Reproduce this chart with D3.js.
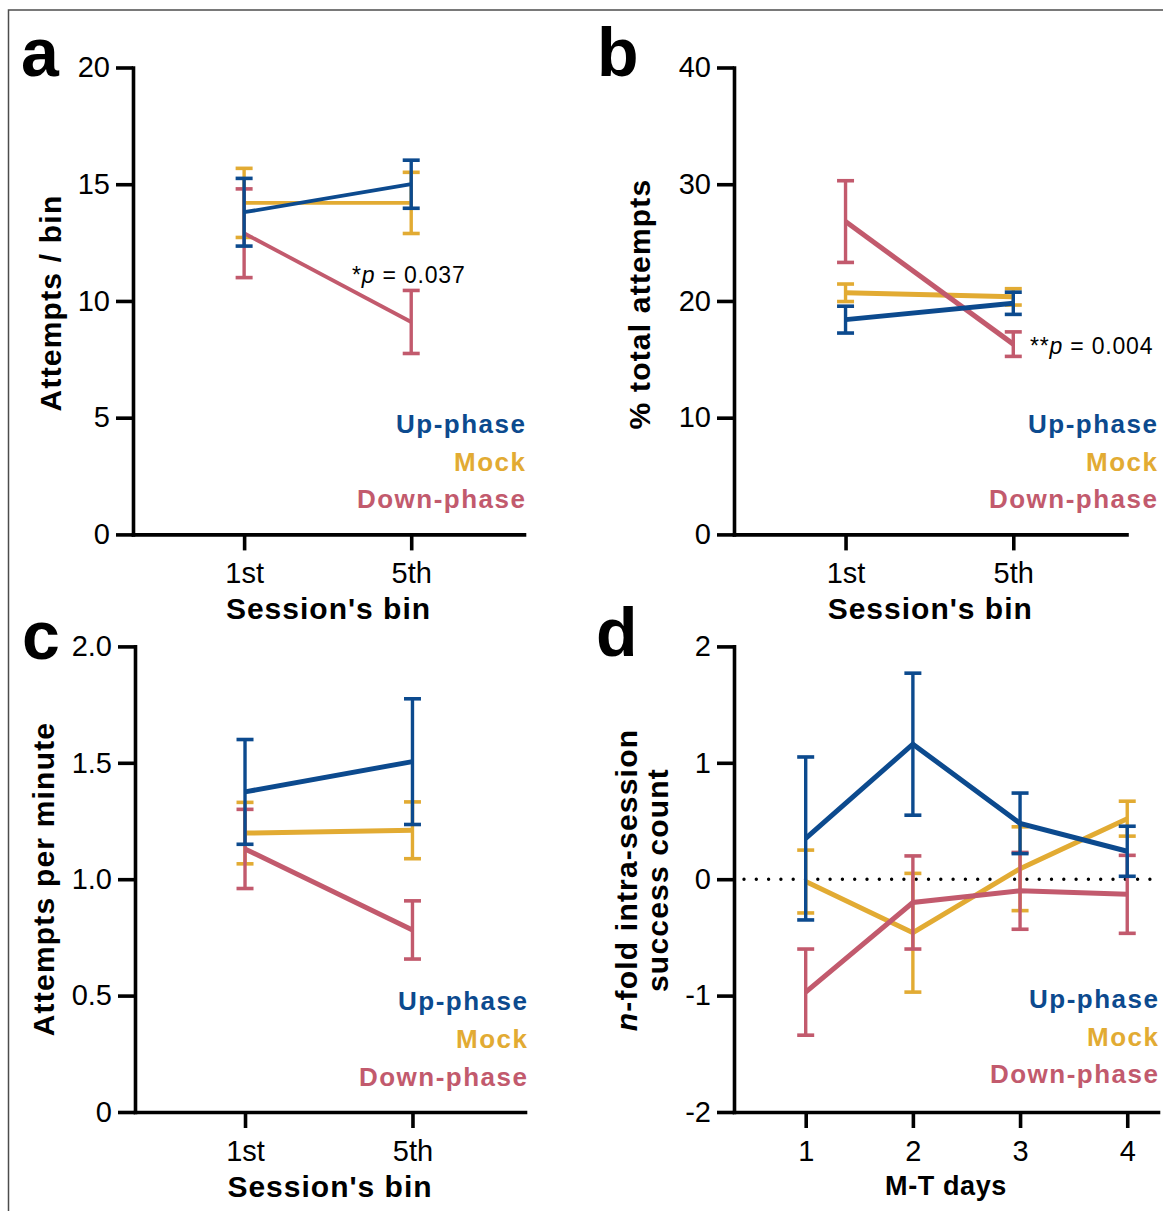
<!DOCTYPE html>
<html>
<head>
<meta charset="utf-8">
<script src="https://cdn.jsdelivr.net/npm/d3@7"></script>
<style>
  body { margin: 0; background: #fff; }
  text { font-family: "Liberation Sans", Arial, Helvetica, sans-serif; }
</style>
</head>
<body>
<svg id="fig" width="1163" height="1211"></svg>
<script>
// ---- data ----
var seriesNames = ["Up-phase", "Mock", "Down-phase"];
var binLabels = ["1st", "5th"];
var dayLabels = ["1", "2", "3", "4"];

// a: attempts / bin
var aUp = [13.8, 15.0],    aUpErr = [1.45, 1.03];
var aMock = [14.2, 14.2],  aMockErr = [1.48, 1.31];
var aDown = [12.9, 9.1],   aDownErr = [1.9, 1.35];
var aTicks = [0, 5, 10, 15, 20];

// b: % total attempts
var bUp = [18.4, 19.8],    bUpErr = [1.15, 0.95];
var bMock = [20.7, 20.35], bMockErr = [0.75, 0.7];
var bDown = [26.8, 16.3],  bDownErr = [3.5, 1.05];
var bTicks = [0, 10, 20, 30, 40];

// c: attempts per minute
var cUp = [1.375, 1.505],  cUpErr = [0.225, 0.27];
var cMock = [1.198, 1.21], cMockErr = [0.132, 0.122];
var cDown = [1.13, 0.782], cDownErr = [0.17, 0.125];
var cTicks = [0, 0.5, 1.0, 1.5, 2.0];

// d: n-fold intra-session success count
var dUp = [0.35, 1.16, 0.48, 0.24],     dUpErr = [0.70, 0.61, 0.26, 0.215];
var dMock = [-0.02, -0.46, 0.09, 0.52], dMockErr = [0.27, 0.51, 0.36, 0.15];
var dDown = [-0.97, -0.2, -0.1, -0.13], dDownErr = [0.37, 0.40, 0.33, 0.335];
var dTicks = [-2, -1, 0, 1, 2];

var colors = { "Up-phase": "#0c4a8e", "Mock": "#e2ab33", "Down-phase": "#c25a6d" };

var svg = d3.select("#fig");

// outer frame (right / bottom edges run off the page)
svg.append("rect")
  .attr("x", 8.5).attr("y", 10)
  .attr("width", 1200).attr("height", 1250)
  .attr("fill", "none")
  .attr("stroke", "#4d4d4d")
  .attr("stroke-width", 1.5);

function drawPanel(p) {
  var g = svg.append("g");
  var x = d3.scaleLinear().domain(p.xDomain).range([p.left, p.right]);
  var y = d3.scaleLinear().domain(p.yDomain).range([p.bottom, p.top]);

  // axes
  var yAxis = d3.axisLeft(y)
    .tickValues(p.yTicks)
    .tickSize(17).tickSizeOuter(0).tickPadding(6)
    .tickFormat(p.yFormat);
  var xAxis = d3.axisBottom(x)
    .tickValues(p.xLabels.map(function(d, i) { return i + 1; }))
    .tickSize(16).tickSizeOuter(0).tickPadding(12)
    .tickFormat(function(d) { return p.xLabels[d - 1]; });

  var gy = g.append("g").attr("transform", "translate(" + p.left + ",0)").call(yAxis);
  var gx = g.append("g").attr("transform", "translate(0," + p.bottom + ")").call(xAxis);
  [gy, gx].forEach(function(ax) {
    ax.attr("font-size", null).attr("font-family", null);
    ax.select(".domain").attr("stroke", "#000").attr("stroke-width", 3.6).attr("stroke-linecap", "square");
    ax.selectAll(".tick line").attr("stroke", "#000").attr("stroke-width", 3.6);
    ax.selectAll(".tick text").attr("fill", "#000").style("font-size", "29px");
  });

  // zero reference line
  if (p.zeroLine) {
    g.append("line")
      .attr("x1", p.left + 10).attr("x2", p.right)
      .attr("y1", y(0)).attr("y2", y(0))
      .attr("stroke", "#000").attr("stroke-width", 3.4)
      .attr("stroke-linecap", "round")
      .attr("stroke-dasharray", "0 12.3");
  }

  // series: Mock, Down, Up (Up on top)
  var order = ["Mock", "Down-phase", "Up-phase"];
  order.forEach(function(name) {
    var s = p.series[name];
    var col = colors[name];
    var pts = s.mean.map(function(m, i) { return { x: i + 1, m: m, e: s.err[i] }; });
    var eg = g.append("g");
    pts.forEach(function(d) {
      var cx = x(d.x), y1 = y(d.m + d.e), y2 = y(d.m - d.e);
      eg.append("line").attr("x1", cx).attr("x2", cx).attr("y1", y1).attr("y2", y2)
        .attr("stroke", col).attr("stroke-width", 3.4);
      [y1, y2].forEach(function(yy) {
        eg.append("line").attr("x1", cx - 8.5).attr("x2", cx + 8.5).attr("y1", yy).attr("y2", yy)
          .attr("stroke", col).attr("stroke-width", 3.6);
      });
    });
    g.append("path")
      .datum(pts)
      .attr("fill", "none")
      .attr("stroke", col)
      .attr("stroke-width", p.lineWidth)
      .attr("d", d3.line().x(function(d) { return x(d.x); }).y(function(d) { return y(d.m); }));
  });

  // panel letter
  g.append("text")
    .attr("x", p.letterX).attr("y", p.letterY)
    .style("font-size", "68px").style("font-weight", "bold")
    .text(p.letter);

  // x title
  g.append("text")
    .attr("x", (p.left + p.right) / 2).attr("y", p.xTitleY)
    .attr("text-anchor", "middle")
    .style("font-size", p.xTitleSize + "px").style("font-weight", "bold")
    .style("letter-spacing", p.xTitleSpacing + "px")
    .text(p.xTitle);

  // y title (one or two lines)
  p.yTitle.forEach(function(line, i) {
    var t = g.append("text")
      .attr("transform", "translate(" + p.yTitleX[i] + "," + p.yTitleY + ") rotate(-90)")
      .attr("text-anchor", "middle")
      .style("font-size", "30px").style("font-weight", "bold")
      .style("letter-spacing", "1.2px");
    line.forEach(function(part) {
      t.append("tspan").style("font-style", part.italic ? "italic" : "normal").text(part.t);
    });
  });

  // legend
  seriesNames.forEach(function(name, i) {
    g.append("text")
      .attr("x", p.legendRight + 1.5).attr("y", p.legendY[i])
      .attr("text-anchor", "end")
      .attr("fill", colors[name])
      .style("font-size", "26px").style("font-weight", "bold")
      .style("letter-spacing", "1.5px")
      .text(name);
  });

  // p-value annotation
  if (p.pText) {
    var pt = g.append("text")
      .attr("x", p.pX).attr("y", p.pY)
      .attr("xml:space", "preserve")
      .style("font-size", "23px").style("letter-spacing", "0.8px");
    pt.append("tspan").text(p.pStars);
    pt.append("tspan").style("font-style", "italic").text("p");
    pt.append("tspan").text(" = " + p.pText);
  }
}

var fmt1 = function(d) { return d === 0 ? "0" : d.toFixed(1); };
var fmtInt = function(d) { return String(d); };

drawPanel({
  letter: "a", letterX: 21, letterY: 76,
  left: 133, right: 524, top: 67.5, bottom: 534.4,
  xDomain: [0.335, 2.675], yDomain: [0, 20], yTicks: aTicks, yFormat: fmtInt,
  xLabels: binLabels, xTitle: "Session's bin", xTitleY: 619, xTitleSize: 30, xTitleSpacing: 1,
  yTitle: [[{ t: "Attempts / bin" }]], yTitleX: [61], yTitleY: 303,
  legendRight: 525, legendY: [433, 471, 508],
  lineWidth: 3.8,
  series: { "Up-phase": { mean: aUp, err: aUpErr }, "Mock": { mean: aMock, err: aMockErr }, "Down-phase": { mean: aDown, err: aDownErr } },
  pStars: "*", pText: "0.037", pX: 352, pY: 283
});

drawPanel({
  letter: "b", letterX: 597, letterY: 76,
  left: 734, right: 1126.5, top: 67.5, bottom: 534.4,
  xDomain: [0.335, 2.675], yDomain: [0, 40], yTicks: bTicks, yFormat: fmtInt,
  xLabels: binLabels, xTitle: "Session's bin", xTitleY: 619, xTitleSize: 30, xTitleSpacing: 1,
  yTitle: [[{ t: "% total attempts" }]], yTitleX: [650], yTitleY: 304,
  legendRight: 1157, legendY: [433, 471, 508],
  lineWidth: 5,
  series: { "Up-phase": { mean: bUp, err: bUpErr }, "Mock": { mean: bMock, err: bMockErr }, "Down-phase": { mean: bDown, err: bDownErr } },
  pStars: "**", pText: "0.004", pX: 1030, pY: 354
});

drawPanel({
  letter: "c", letterX: 22, letterY: 659,
  left: 135, right: 525, top: 646.4, bottom: 1112,
  xDomain: [0.343, 2.672], yDomain: [0, 2], yTicks: cTicks, yFormat: fmt1,
  xLabels: binLabels, xTitle: "Session's bin", xTitleY: 1197, xTitleSize: 30, xTitleSpacing: 1,
  yTitle: [[{ t: "Attempts per minute" }]], yTitleX: [54], yTitleY: 879,
  legendRight: 527, legendY: [1010, 1048, 1085.5],
  lineWidth: 5,
  series: { "Up-phase": { mean: cUp, err: cUpErr }, "Mock": { mean: cMock, err: cMockErr }, "Down-phase": { mean: cDown, err: cDownErr } }
});

drawPanel({
  letter: "d", letterX: 596, letterY: 656,
  left: 734, right: 1158, top: 646.4, bottom: 1112,
  xDomain: [0.331, 4.287], yDomain: [-2, 2], yTicks: dTicks, yFormat: fmtInt,
  xLabels: dayLabels, xTitle: "M-T days", xTitleY: 1195, xTitleSize: 27, xTitleSpacing: 0.6,
  yTitle: [[{ t: "n", italic: true }, { t: "-fold intra-session" }], [{ t: "success count" }]],
  yTitleX: [637, 668], yTitleY: 880,
  legendRight: 1158, legendY: [1008, 1046, 1083],
  lineWidth: 5, zeroLine: true,
  series: { "Up-phase": { mean: dUp, err: dUpErr }, "Mock": { mean: dMock, err: dMockErr }, "Down-phase": { mean: dDown, err: dDownErr } }
});
</script>
</body>
</html>
